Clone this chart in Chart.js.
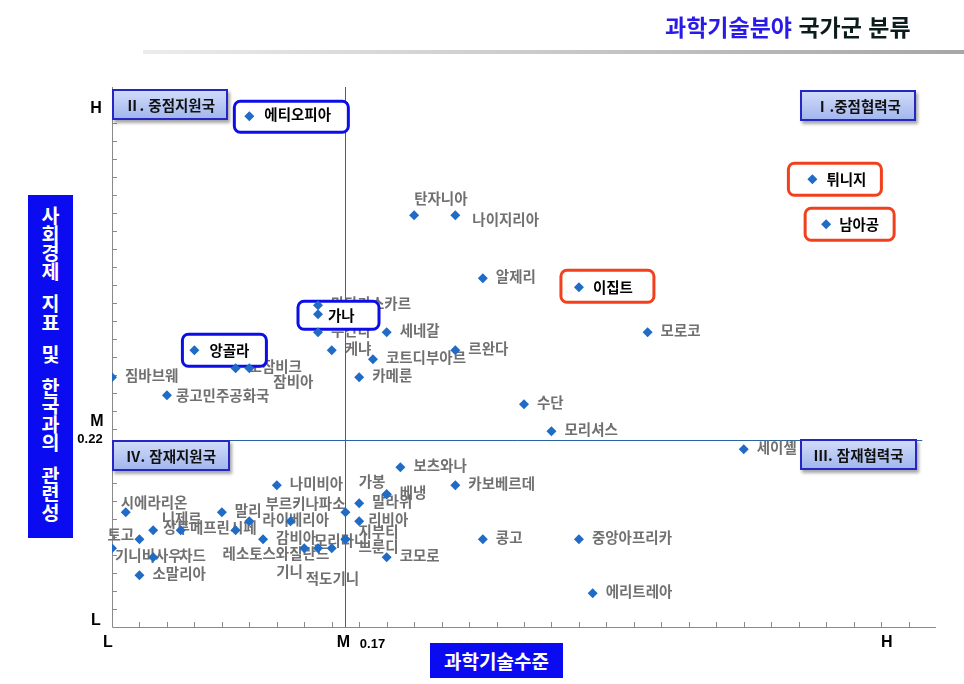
<!DOCTYPE html>
<html lang="ko">
<head>
<meta charset="utf-8">
<title>과학기술분야 국가군 분류</title>
<script src="https://cdn.jsdelivr.net/npm/chart.js@4.4.1/dist/chart.umd.min.js"></script>
<style>
  html, body { margin: 0; padding: 0; background: #fff; }
  #wrap {
    position: relative; width: 964px; height: 684px; overflow: hidden;
    font-family: "Noto Sans CJK KR", "Noto Sans", sans-serif;
  }
  #chart { position: absolute; left: 0; top: 0; }
  .page-title {
    position: absolute; left: 665px; top: 10px; line-height: 32px;
    font-size: 23px; font-weight: bold; color: #0c1c1c; white-space: nowrap;
  }
  .page-title .hl { color: #2a1ae8; }
  .rule {
    position: absolute; left: 143px; top: 50px; width: 821px; height: 4px;
    background: linear-gradient(to right, #ececec, #a6a6a6);
  }
  .y-title {
    position: absolute; left: 28px; top: 195px; width: 45px; height: 343px;
    background: #0b0bf2; color: #fff; font-weight: bold; font-size: 19.5px;
    text-align: center; box-sizing: border-box; padding-top: 11px;
  }
  .y-title span { display: block; height: 18.5px; line-height: 18.5px; }
  .y-title span.gap { height: 14px; }
  .x-title {
    position: absolute; left: 430px; top: 643px; width: 133px; height: 35px;
    background: #0b0bf2; color: #fff; font-weight: bold; font-size: 19px;
    line-height: 35px; text-align: center;
  }
  .quad {
    position: absolute; height: 31px; box-sizing: border-box;
    border: 2px solid #2626c4;
    background: linear-gradient(#d0dbf9, #a3b7ee);
    box-shadow: 2px 3px 3px rgba(0, 0, 0, 0.35);
    font-size: 14.5px; font-weight: bold; color: #111;
    line-height: 27px; text-align: center; white-space: nowrap;
  }
</style>
</head>
<body>
<div id="wrap">
  <canvas id="chart"></canvas>
  <div class="page-title"><span class="hl">과학기술분야</span> 국가군 분류</div>
  <div class="rule"></div>
  <div class="y-title" id="y-title"></div>
  <div class="x-title">과학기술수준</div>
  <div class="quad" style="left:112px; top:89px; width:116px;">Ⅱ. 중점지원국</div>
  <div class="quad" style="left:800px; top:90px; width:116px;">Ⅰ.중점협력국</div>
  <div class="quad" style="left:112px; top:440px; width:118px;">Ⅳ. 잠재지원국</div>
  <div class="quad" style="left:800px; top:439px; width:117px;">Ⅲ. 잠재협력국</div>
</div>

<script>
// Countries, science & technology level (x), socio-economic relevance (y)
const countries = [
  "튀니지", "남아공", "탄자니아", "나이지리아", "알제리", "이집트", "세네갈",
  "모로코", "코트디부아르", "르완다", "카메룬", "수단", "모리셔스",
  "에티오피아", "앙골라", "가나", "마다가스카르", "우간다", "케냐", "모잠비크",
  "잠비아", "짐바브웨", "콩고민주공화국",
  "세이셸", "보츠와나", "카보베르데", "가봉", "베냉", "말라위", "리비아",
  "지부티", "브룬디", "코모로", "콩고", "중앙아프리카", "에리트레아",
  "나미비아", "시에라리온", "말리", "라이베리아", "니제르", "상투메프린시페",
  "레소토", "토고", "감비아", "기니비사우", "차드", "소말리아", "부르키나파소",
  "스와질란드", "기니", "모리타니", "적도기니"
];
const techLevel = [
  0.51, 0.52, 0.22, 0.25, 0.27, 0.34, 0.20,
  0.39, 0.19, 0.25, 0.18, 0.30, 0.32,
  0.10, 0.06, 0.15, 0.15, 0.15, 0.16, 0.09,
  0.10, 0.00, 0.04,
  0.46, 0.21, 0.25, 0.20, 0.20, 0.18, 0.18,
  0.17, 0.17, 0.20, 0.27, 0.34, 0.35,
  0.12, 0.01, 0.08, 0.10, 0.05, 0.03,
  0.09, 0.02, 0.11, 0.00, 0.03, 0.02, 0.17,
  0.13, 0.14, 0.15, 0.16
];
const socioLink = [
  0.51, 0.46, 0.47, 0.47, 0.40, 0.39, 0.34,
  0.34, 0.31, 0.32, 0.29, 0.26, 0.23,
  0.58, 0.32, 0.36, 0.37, 0.34, 0.32, 0.30,
  0.30, 0.29, 0.27,
  0.21, 0.19, 0.17, 0.16, 0.16, 0.15, 0.13,
  0.11, 0.11, 0.09, 0.11, 0.11, 0.05,
  0.17, 0.14, 0.14, 0.13, 0.12, 0.12,
  0.12, 0.11, 0.11, 0.10, 0.09, 0.07, 0.14,
  0.13, 0.10, 0.10, 0.10
];

// Axis marks: L / M / H
const tickLabels = ["L", "M", "H"];
const xTickValues = [0, 0.17, 0.567];
const yTickValues = [0.02, 0.22, 0.588];

const blueBoxed = ["에티오피아", "앙골라", "가나"];
const redBoxed = ["튀니지", "남아공", "이집트"];

// label placement relative to the marker (px): [dx to text start, dy to text middle]
const labelShift = {
  "탄자니아": [0, -17], "나이지리아": [17, 4], "가나": [10, 1],
  "잠비아": [24, 13], "콩고민주공화국": [9, 0], "가봉": [-28, -13],
  "리비아": [9, -2], "지부티": [13, -8], "브룬디": [13, 7],
  "시에라리온": [-5, -10], "니제르": [-19, -12], "토고": [-32, -5],
  "기니비사우": [3, 7], "차드": [26, -2], "상투메프린시페": [10, -3],
  "레소토": [-13, 23], "스와질란드": [-28, 32], "부르키나파소": [-80, -9],
  "기니": [-28, 23], "적도기니": [-26, 30], "모리타니": [-4, -8],
  "에티오피아": [15, -2], "앙골라": [15, 0], "튀니지": [14, 0],
  "남아공": [13, 0], "이집트": [14, 0]
};
// highlight frame around marker (px): [left, right, top, bottom]
const frameBox = {
  "에티오피아": [-15, 99, -15, 16], "앙골라": [-12, 72, -16, 16],
  "가나": [-20, 61, -13, 15], "이집트": [-18, 75, -17, 15],
  "튀니지": [-24, 69, -16, 16], "남아공": [-21, 68, -16, 16]
};

const X_MID = xTickValues[1];
const Y_MID = yTickValues[1];
const KFONT = '"Noto Sans CJK KR", "Noto Sans", sans-serif';

// vertical axis title, one syllable per line
const yTitle = document.getElementById("y-title");
"사회경제 지표 및 한국과의 관련성".split("").forEach((ch) => {
  const s = document.createElement("span");
  if (ch === " ") s.className = "gap";
  else s.textContent = ch;
  yTitle.appendChild(s);
});

const decorPlugin = {
  id: "decor",
  beforeDatasetsDraw(chart) {
    const { ctx, chartArea: a } = chart;
    const x = chart.scales.x;
    const y = chart.scales.y;
    ctx.save();

    // axis lines with small inner ticks
    ctx.strokeStyle = "#8a8a8a";
    ctx.lineWidth = 1;
    ctx.beginPath();
    ctx.moveTo(a.left + 0.5, a.top);
    ctx.lineTo(a.left + 0.5, a.bottom + 0.5);
    ctx.lineTo(a.right, a.bottom + 0.5);
    for (let v = y.min + 0.02; v < y.max; v += 0.02) {
      const py = Math.round(y.getPixelForValue(v)) + 0.5;
      ctx.moveTo(a.left, py);
      ctx.lineTo(a.left + 5, py);
    }
    for (let v = x.min + 0.02; v < x.max; v += 0.02) {
      const px = Math.round(x.getPixelForValue(v)) + 0.5;
      ctx.moveTo(px, a.bottom);
      ctx.lineTo(px, a.bottom - 5);
    }
    ctx.stroke();

    // quadrant dividers
    ctx.strokeStyle = "#2b63a3";
    ctx.beginPath();
    const vx = Math.round(x.getPixelForValue(X_MID)) + 0.5;
    ctx.moveTo(vx, a.top);
    ctx.lineTo(vx, a.bottom);
    const hy = Math.round(y.getPixelForValue(Y_MID)) + 0.5;
    ctx.moveTo(a.left, hy);
    ctx.lineTo(x.getPixelForValue(0.59), hy);
    ctx.stroke();

    // plain data labels
    ctx.font = "bold 14.5px " + KFONT;
    ctx.textBaseline = "middle";
    ctx.textAlign = "left";
    ctx.fillStyle = "#707070";
    countries.forEach((name, i) => {
      if (frameBox[name]) return;
      const px = x.getPixelForValue(techLevel[i]);
      const py = y.getPixelForValue(socioLink[i]);
      const [dx, dy] = labelShift[name] || [13, -2];
      ctx.fillText(name, px + dx, py + dy);
    });

    // highlighted countries
    countries.forEach((name, i) => {
      if (!frameBox[name]) return;
      const px = x.getPixelForValue(techLevel[i]);
      const py = y.getPixelForValue(socioLink[i]);
      const [l, r, t, b] = frameBox[name];
      ctx.beginPath();
      ctx.roundRect(px + l, py + t, r - l, b - t, 6);
      ctx.fillStyle = "#fff";
      ctx.fill();
      ctx.lineWidth = 3;
      ctx.strokeStyle = blueBoxed.includes(name) ? "#0d0de6" : "#f2401c";
      ctx.stroke();
      const [dx, dy] = labelShift[name];
      ctx.fillStyle = "#000";
      ctx.fillText(name, px + dx, py + dy);
    });

    ctx.restore();
  },
  afterDraw(chart) {
    const { ctx, chartArea: a } = chart;
    const x = chart.scales.x;
    const y = chart.scales.y;
    ctx.save();
    ctx.fillStyle = "#000";
    ctx.textBaseline = "middle";
    ctx.textAlign = "center";
    // y axis marks
    yTickValues.forEach((v, i) => {
      const py = y.getPixelForValue(v);
      ctx.font = 'bold 16px "Liberation Sans", Arial, sans-serif';
      if (i === 1) {
        ctx.fillText(tickLabels[i], a.left - 15, py - 19);
        ctx.font = 'bold 13px "Liberation Sans", Arial, sans-serif';
        ctx.fillText(v.toFixed(2), a.left - 22, py - 1);
      } else {
        ctx.fillText(tickLabels[i], a.left - 16, py);
      }
    });
    // x axis marks
    xTickValues.forEach((v, i) => {
      const px = x.getPixelForValue(v);
      ctx.font = 'bold 16px "Liberation Sans", Arial, sans-serif';
      if (i === 1) {
        ctx.fillText(tickLabels[i], px - 2, a.bottom + 16);
        ctx.font = 'bold 13px "Liberation Sans", Arial, sans-serif';
        ctx.fillText(v.toFixed(2), px + 27, a.bottom + 17);
      } else {
        ctx.fillText(tickLabels[i], px - 4, a.bottom + 16);
      }
    });
    ctx.restore();
  }
};

const points = countries.map((name, i) => ({ x: techLevel[i], y: socioLink[i], name }));

new Chart(document.getElementById("chart").getContext("2d"), {
  type: "scatter",
  data: {
    datasets: [
      {
        data: points,
        pointStyle: "rectRot",
        pointRadius: 5,
        pointBackgroundColor: "#1f6bc6",
        pointBorderWidth: 0,
      },
    ],
  },
  options: {
    responsive: true,
    maintainAspectRatio: false,
    animation: false,
    layout: { padding: { left: 112, right: 28, top: 87, bottom: 57 } },
    plugins: { legend: { display: false }, tooltip: { enabled: false } },
    scales: {
      x: { type: "linear", min: 0, max: 0.6, display: false },
      y: { type: "linear", min: 0.0125, max: 0.6125, display: false },
    },
  },
  plugins: [decorPlugin],
});
</script>
</body>
</html>
